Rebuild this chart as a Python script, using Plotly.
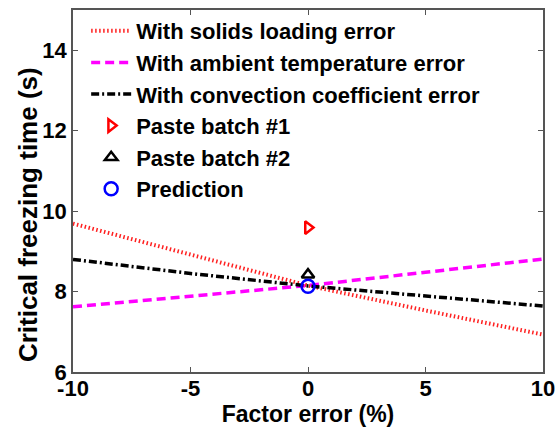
import plotly.graph_objects as go

# Factor error (%) and resulting critical freezing time (s)
factor_error = [-10, -5, 0, 5, 10]
solids_loading = [9.69, 8.91, 8.15, 7.53, 6.93]
ambient_temp = [7.62, 7.88, 8.15, 8.48, 8.81]
convection_coef = [8.80, 8.45, 8.14, 7.89, 7.64]

batch1_x, batch1_y = [0], [9.59]
batch2_x, batch2_y = [0], [8.42]
pred_x, pred_y = [0], [8.13]

x_ticks = [-10, -5, 0, 5, 10]
x_tick_text = ["-10", "-5", "0", "5", "10"]
y_ticks = [6, 8, 10, 12, 14]

FONT = "Arial, Liberation Sans, sans-serif"

fig = go.Figure()
fig.add_trace(go.Scatter(x=factor_error, y=solids_loading, mode="lines",
                         name="With solids loading error",
                         line=dict(color="#ff2020", width=4, dash="1.5px,2.5px")))
fig.add_trace(go.Scatter(x=factor_error, y=ambient_temp, mode="lines",
                         name="With ambient temperature error",
                         line=dict(color="#ff00ff", width=3.5, dash="9px,5px")))
fig.add_trace(go.Scatter(x=factor_error, y=convection_coef, mode="lines",
                         name="With convection coefficient error",
                         line=dict(color="black", width=3.5, dash="8px,3px,2px,3px")))
fig.add_trace(go.Scatter(x=batch1_x, y=batch1_y, mode="markers",
                         name="Paste batch #1",
                         marker=dict(symbol="triangle-right-open", size=11,
                                     color="red", line=dict(width=2.5, color="red"))))
fig.add_trace(go.Scatter(x=batch2_x, y=batch2_y, mode="markers",
                         name="Paste batch #2",
                         marker=dict(symbol="triangle-up-open", size=11,
                                     color="black", line=dict(width=2.5, color="black"))))
fig.add_trace(go.Scatter(x=pred_x, y=pred_y, mode="markers",
                         name="Prediction",
                         marker=dict(symbol="circle-open", size=13,
                                     color="blue", line=dict(width=2.5, color="blue"))))

axis_common = dict(
    showline=True, linecolor="#555555", linewidth=1.5, mirror="ticks",
    ticks="inside", ticklen=5, tickcolor="#555555", showgrid=False, zeroline=False,
    automargin=False,
    tickfont=dict(family=FONT, size=22, color="black", weight="bold"),
)

fig.update_layout(
    width=555, height=429,
    margin=dict(l=73, r=12, t=10, b=57, autoexpand=False),
    paper_bgcolor="white", plot_bgcolor="white",
    font=dict(family=FONT, color="black"),
    xaxis=dict(range=[-10, 10], tickvals=x_ticks, ticktext=x_tick_text,
               ticklabelstandoff=-4, ticklabeloverflow="allow",
               title=dict(text="Factor error (%)", standoff=6,
                          font=dict(family=FONT, size=23, weight="bold")),
               **axis_common),
    yaxis=dict(range=[6, 15], tickvals=y_ticks, **axis_common),
    legend=dict(x=0.028, y=1.0, xanchor="left", yanchor="top",
                bgcolor="rgba(0,0,0,0)", borderwidth=0,
                font=dict(family=FONT, size=22, weight="bold", color="black"),
                tracegroupgap=0, itemwidth=40),
    showlegend=True,
)

# Y-axis title, placed as a rotated label left of the tick labels
fig.add_annotation(text="Critical freezing time (s)", textangle=-90,
                   xref="paper", yref="paper", x=-0.096, y=0.436,
                   xanchor="center", yanchor="middle", showarrow=False,
                   font=dict(family=FONT, size=26, weight="bold", color="black"))

fig.write_html("out.html")
